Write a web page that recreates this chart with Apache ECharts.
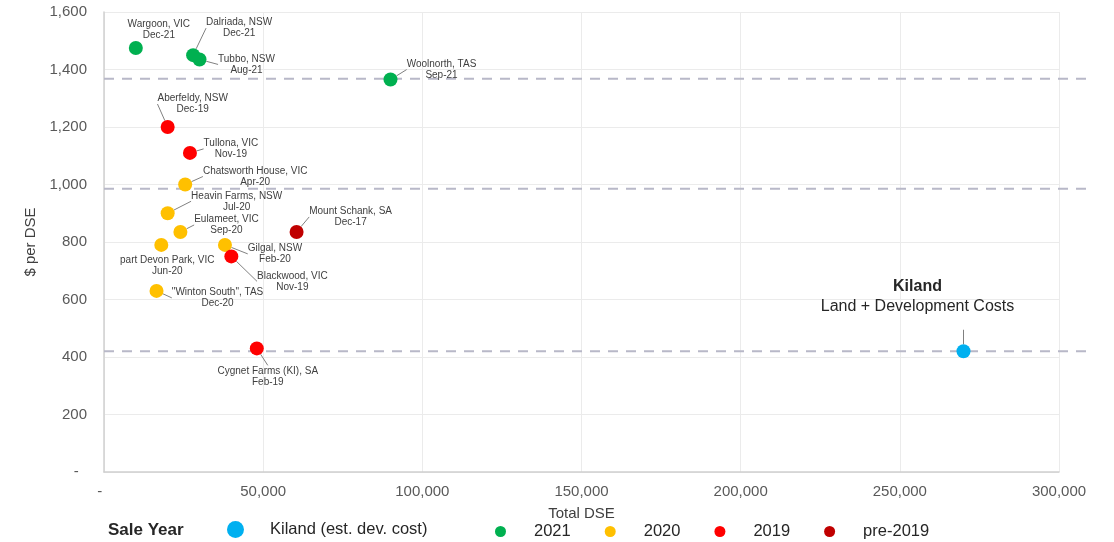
<!DOCTYPE html>
<html>
<head>
<meta charset="utf-8">
<script src="https://cdn.jsdelivr.net/npm/echarts@6/dist/echarts.min.js"></script>
<style>
  html, body { margin: 0; padding: 0; background: #fff; }
  #chart { width: 1114px; height: 542px; }
</style>
</head>
<body>
<div id="chart"></div>
<script>
// sale data, one group per legend entry
const kilandNames = ['Kiland']
const kilandDse = [270000]
const kilandPrice = [420]

const names2021 = ['Wargoon, VIC', 'Dalriada, NSW', 'Tubbo, NSW', 'Woolnorth, TAS']
const dates2021 = ['Dec-21', 'Dec-21', 'Aug-21', 'Sep-21']
const dse2021 = [10000, 28000, 30000, 90000]
const price2021 = [1475, 1450, 1435, 1365]

const names2020 = ['Chatsworth House, VIC', 'Heavin Farms, NSW', 'Eulameet, VIC', 'part Devon Park, VIC', 'Gilgal, NSW', '"Winton South", TAS']
const dates2020 = ['Apr-20', 'Jul-20', 'Sep-20', 'Jun-20', 'Feb-20', 'Dec-20']
const dse2020 = [25500, 20000, 24000, 18000, 38000, 16500]
const price2020 = [1000, 900, 835, 790, 790, 630]

const names2019 = ['Aberfeldy, NSW', 'Tullona, VIC', 'Blackwood, VIC', 'Cygnet Farms (KI), SA']
const dates2019 = ['Dec-19', 'Nov-19', 'Nov-19', 'Feb-19']
const dse2019 = [20000, 27000, 40000, 48000]
const price2019 = [1200, 1110, 750, 430]

const namesPre = ['Mount Schank, SA']
const datesPre = ['Dec-17']
const dsePre = [60500]
const pricePre = [835]

// dashed reference levels ($ per DSE)
const refLevels = [1368, 985, 420]

const yTicks = [0, 200, 400, 600, 800, 1000, 1200, 1400, 1600]
const xTicks = [0, 50000, 100000, 150000, 200000, 250000, 300000]

// label placement (offset of label centre from the dot)
const labelShift = {
  'Wargoon, VIC': [23, -18],
  'Dalriada, NSW': [46, -27],
  'Tubbo, NSW': [47, 5],
  'Woolnorth, TAS': [51, -10],
  'Chatsworth House, VIC': [70, -8],
  'Heavin Farms, NSW': [69, -12],
  'Eulameet, VIC': [46, -7],
  'part Devon Park, VIC': [6, 21],
  'Gilgal, NSW': [50, 9],
  '"Winton South", TAS': [61, 7],
  'Aberfeldy, NSW': [25, -23],
  'Tullona, VIC': [41, -4],
  'Blackwood, VIC': [61, 25],
  'Cygnet Farms (KI), SA': [11, 28],
  'Mount Schank, SA': [54, -15]
}
const noLeader = ['Wargoon, VIC', 'part Devon Park, VIC']

const FONT = 'Liberation Sans, Arial, sans-serif'
const gridLeft = 104, gridRight = 55, gridTop = 12, gridBottom = 70
const refRight = 25   // dashed lines run a bit past the plot

function fmt(v) {
  if (v === 0) return '-  '
  return String(v).replace(/\B(?=(\d{3})+(?!\d))/g, ',')
}

function salesSeries(name, color, names, dates, xs, ys) {
  return {
    name: name,
    type: 'scatter',
    symbolSize: 14,
    z: 5,
    itemStyle: { color: color, opacity: 1 },
    data: names.map((n, i) => ({
      name: n,
      value: [xs[i], ys[i]],
      labelLine: { show: noLeader.indexOf(n) < 0 }
    })),
    label: {
      show: true,
      position: 'inside',
      fontFamily: FONT,
      fontSize: 10,
      lineHeight: 11,
      color: '#404040',
      formatter: p => p.name + '\n' + dates[p.dataIndex]
    },
    labelLine: {
      show: true,
      lineStyle: { color: '#808080', width: 1 }
    },
    labelLayout: p => {
      const s = labelShift[names[p.dataIndex]]
      return { dx: s[0], dy: s[1] }
    }
  }
}

const chart = echarts.init(document.getElementById('chart'))

const W = 1114
const refMax = xTicks[xTicks.length - 1] * (W - refRight - gridLeft) / (W - gridRight - gridLeft)

const refSeries = refLevels.map(v => ({
  type: 'line',
  xAxisIndex: 1,
  yAxisIndex: 1,
  silent: true,
  symbol: 'none',
  z: 1,
  lineStyle: { color: '#b8b8c8', width: 2, type: [10, 8] },
  data: [[0, v], [refMax, v]]
}))

const kilandSeries = {
  name: 'Kiland (est. dev. cost)',
  type: 'scatter',
  symbolSize: 14,
  z: 5,
  itemStyle: { color: '#00B0F0', opacity: 1 },
  data: kilandNames.map((n, i) => ({ name: n, value: [kilandDse[i], kilandPrice[i]] })),
  label: {
    show: true,
    position: 'inside',
    padding: [0, 92, 13, 0],
    backgroundColor: 'rgba(255,255,255,0.01)',
    formatter: '{b|Kiland}\n{n|Land + Development Costs}',
    rich: {
      b: { fontFamily: FONT, fontSize: 16, fontWeight: 'bold', color: '#262626', lineHeight: 20 },
      n: { fontFamily: FONT, fontSize: 16, color: '#262626', lineHeight: 20 }
    }
  },
  labelLine: { show: true, lineStyle: { color: '#808080', width: 1 } },
  labelLayout: { dx: 0, dy: -48 }
}

const option = {
  animation: false,
  textStyle: { fontFamily: FONT },
  grid: [
    { left: gridLeft, right: gridRight, top: gridTop, bottom: gridBottom },
    { left: gridLeft, right: refRight, top: gridTop, bottom: gridBottom }
  ],
  graphic: [{
    type: 'text',
    left: 108,
    top: 522,
    style: { text: 'Sale Year', font: 'bold 17px ' + FONT, fill: '#262626' }
  }],
  legend: [{
    data: ['Kiland (est. dev. cost)'],
    left: 227,
    top: 521,
    padding: 0,
    icon: 'circle',
    itemWidth: 17,
    itemHeight: 18,
    textStyle: { fontSize: 16.5, color: '#262626', padding: [0, 0, 0, 21] }
  }, {
    data: ['2021', '2020', '2019', 'pre-2019'],
    left: 495,
    top: 523,
    padding: 0,
    icon: 'circle',
    itemWidth: 11,
    itemHeight: 14,
    itemGap: 34,
    textStyle: { fontSize: 16.5, color: '#262626', padding: [0, 0, 0, 23] }
  }],
  xAxis: [{
    type: 'value',
    min: xTicks[0],
    max: xTicks[xTicks.length - 1],
    interval: 50000,
    name: 'Total DSE',
    nameLocation: 'middle',
    nameGap: 34,
    nameTextStyle: { fontSize: 15, color: '#404040' },
    axisLine: { show: true, lineStyle: { color: '#d0d0d0', width: 1.5 } },
    axisTick: { show: false },
    axisLabel: { fontSize: 15, color: '#595959', margin: 12, formatter: fmt },
    splitLine: { show: true, lineStyle: { color: '#ebebeb', width: 1 } }
  }, {
    type: 'value',
    gridIndex: 1,
    min: 0,
    max: refMax,
    show: false
  }],
  yAxis: [{
    type: 'value',
    min: yTicks[0],
    max: yTicks[yTicks.length - 1],
    interval: 200,
    name: '$ per DSE',
    nameLocation: 'middle',
    nameGap: 64,
    nameTextStyle: { fontSize: 15, color: '#404040' },
    axisLine: { show: true, lineStyle: { color: '#d0d0d0', width: 1.5 } },
    axisTick: { show: false },
    axisLabel: { fontSize: 15, color: '#595959', margin: 17, formatter: fmt },
    splitLine: { show: true, lineStyle: { color: '#ebebeb', width: 1 } }
  }, {
    type: 'value',
    gridIndex: 1,
    min: yTicks[0],
    max: yTicks[yTicks.length - 1],
    show: false
  }],
  series: [
    ...refSeries,
    kilandSeries,
    salesSeries('2021', '#00B050', names2021, dates2021, dse2021, price2021),
    salesSeries('2020', '#FFC000', names2020, dates2020, dse2020, price2020),
    salesSeries('2019', '#FF0000', names2019, dates2019, dse2019, price2019),
    salesSeries('pre-2019', '#C00000', namesPre, datesPre, dsePre, pricePre)
  ]
}
chart.setOption(option)
</script>
</body>
</html>
